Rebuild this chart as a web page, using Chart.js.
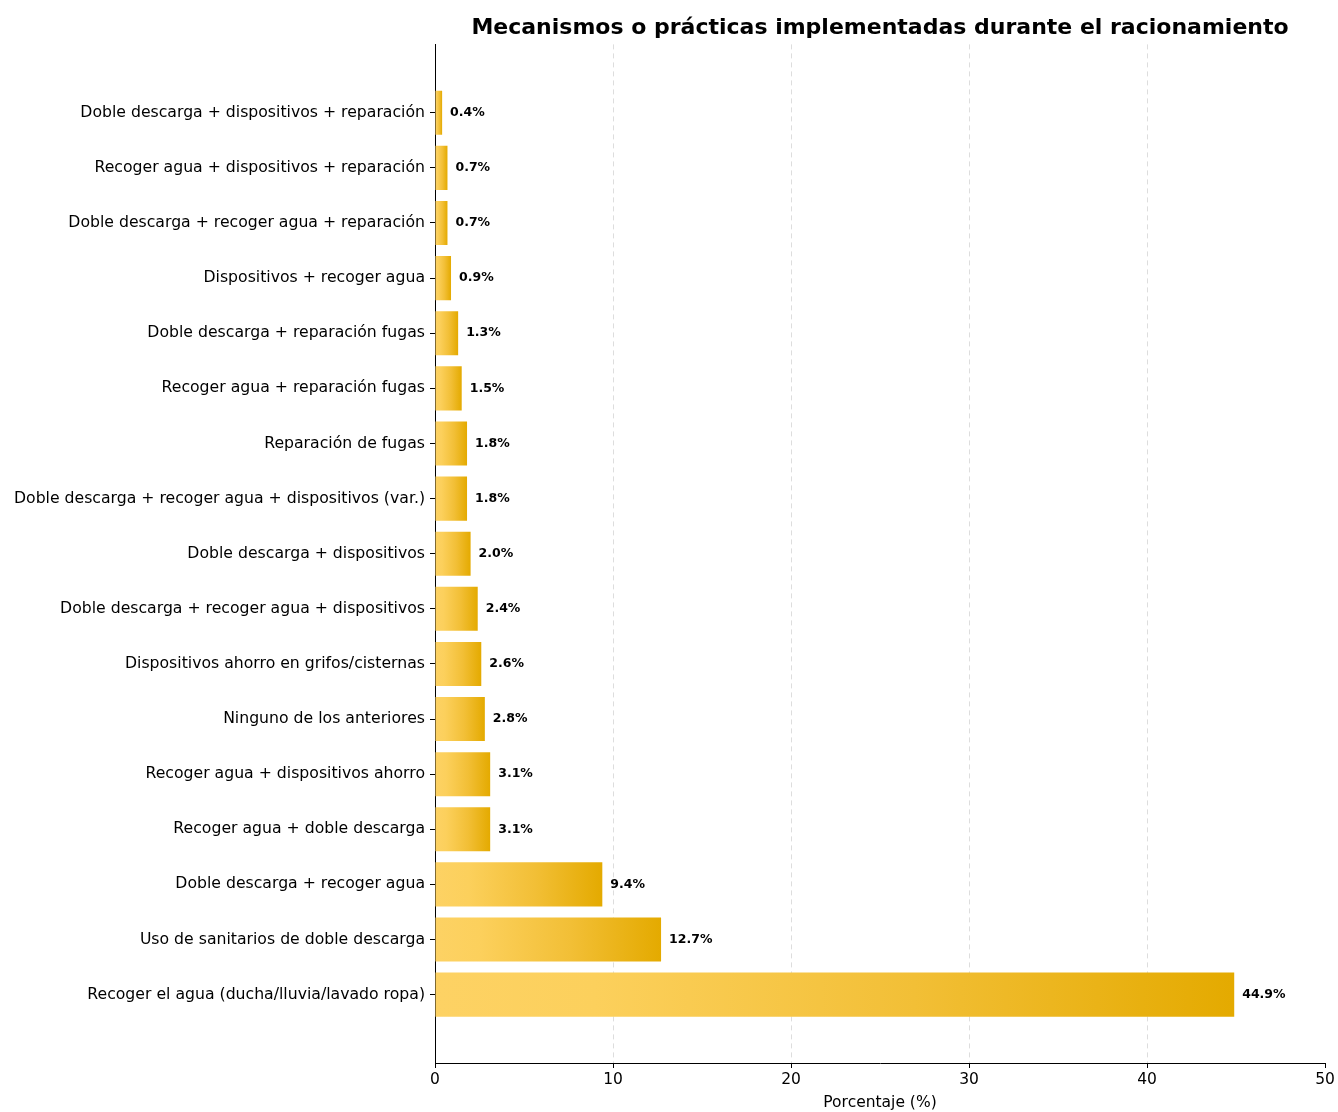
<!DOCTYPE html>
<html>
<head>
<meta charset="utf-8">
<script src="https://cdn.jsdelivr.net/npm/chart.js@4/dist/chart.umd.min.js"></script>
<style>
  html, body { margin: 0; padding: 0; background: #fff; }
  #wrap { width: 1338px; height: 1112px; }
</style>
</head>
<body>
<div id="wrap"><canvas id="chart"></canvas></div>
<script>
// datos (de abajo hacia arriba, como en la figura)
const categories = [
  'Recoger el agua (ducha/lluvia/lavado ropa)',
  'Uso de sanitarios de doble descarga',
  'Doble descarga + recoger agua',
  'Recoger agua + doble descarga',
  'Recoger agua + dispositivos ahorro',
  'Ninguno de los anteriores',
  'Dispositivos ahorro en grifos/cisternas',
  'Doble descarga + recoger agua + dispositivos',
  'Doble descarga + dispositivos',
  'Doble descarga + recoger agua + dispositivos (var.)',
  'Reparación de fugas',
  'Recoger agua + reparación fugas',
  'Doble descarga + reparación fugas',
  'Dispositivos + recoger agua',
  'Doble descarga + recoger agua + reparación',
  'Recoger agua + dispositivos + reparación',
  'Doble descarga + dispositivos + reparación'
];
const percentages = [44.9, 12.7, 9.4, 3.1, 3.1, 2.8, 2.6, 2.4, 2.0, 1.8, 1.8, 1.5, 1.3, 0.9, 0.7, 0.7, 0.4];
const xTicks = [0, 10, 20, 30, 40, 50];

const FONT = 'DejaVu Sans';

// gradiente horizontal dentro de cada barra
function barGradient(context) {
  const chart = context.chart;
  if (!chart.chartArea || context.parsed == null) return '#f0c030';
  const xs = chart.scales.x;
  const x0 = xs.getPixelForValue(0);
  const x1 = xs.getPixelForValue(context.parsed.x);
  if (!isFinite(x1) || x1 - x0 < 1) return '#f5c640';
  const g = chart.ctx.createLinearGradient(x0, 0, x1, 0);
  g.addColorStop(0, '#fdd264');
  g.addColorStop(0.2, '#fcd05c');
  g.addColorStop(0.6, '#f2bf36');
  g.addColorStop(1, '#e4aa00');
  return g;
}

// etiquetas de valor al final de cada barra
const valueLabels = {
  id: 'valueLabels',
  afterDatasetsDraw(chart) {
    const ctx = chart.ctx;
    const meta = chart.getDatasetMeta(0);
    ctx.save();
    ctx.font = `bold 12.5px "${FONT}"`;
    ctx.fillStyle = '#000';
    ctx.textAlign = 'left';
    ctx.textBaseline = 'middle';
    meta.data.forEach((bar, i) => {
      ctx.fillText(percentages[i].toFixed(1) + '%', bar.x + 8, bar.y);
    });
    ctx.restore();
  }
};

const data = percentages.map((v, i) => ({ x: v, y: i }));

new Chart(document.getElementById('chart'), {
  type: 'bar',
  data: {
    datasets: [{
      data: data,
      backgroundColor: barGradient,
      borderWidth: 0,
      barPercentage: 0.8,
      categoryPercentage: 1.0
    }]
  },
  options: {
    indexAxis: 'y',
    responsive: true,
    maintainAspectRatio: false,
    animation: false,
    layout: { padding: { left: 0, right: 13, top: 0, bottom: 0 } },
    plugins: {
      legend: { display: false },
      tooltip: { enabled: false },
      title: {
        display: true,
        text: 'Mecanismos o prácticas implementadas durante el racionamiento',
        fullSize: false,
        color: '#000',
        font: { family: FONT, size: 22, weight: 'bold' },
        padding: { top: 15, bottom: 3 }
      }
    },
    scales: {
      x: {
        type: 'linear',
        min: 0,
        max: 50,
        afterBuildTicks: (scale) => { scale.ticks = xTicks.map(v => ({ value: v })); },
        afterFit: (scale) => { scale.height = 49; },
        ticks: {
          color: '#000',
          font: { family: FONT, size: 15.5 },
          padding: 3
        },
        grid: {
          color: (c) => (c.tick && (c.tick.value === 0 || c.tick.value === 50)) ? 'rgba(0,0,0,0)' : '#dddddd',
          lineWidth: 1,
          tickColor: '#000',
          tickLength: 5,
          tickWidth: 1
        },
        border: { display: true, color: '#000', width: 1, dash: [5, 4] },
        title: {
          display: true,
          text: 'Porcentaje (%)',
          color: '#000',
          font: { family: FONT, size: 15.5 },
          padding: { top: 0, bottom: 0 }
        }
      },
      y: {
        type: 'linear',
        offset: false,
        min: -1.24,
        max: 17.24,
        afterBuildTicks: (scale) => { scale.ticks = categories.map((_, i) => ({ value: i })); },
        afterFit: (scale) => { scale.width = 435; },
        ticks: {
          color: '#000',
          font: { family: FONT, size: 15.7 },
          padding: 5,
          callback: (v) => categories[v]
        },
        grid: {
          offset: false,
          drawOnChartArea: false,
          drawTicks: true,
          tickLength: 5,
          tickColor: '#000',
          tickWidth: 1
        },
        border: { display: true, color: '#000', width: 1 }
      }
    }
  },
  plugins: [valueLabels]
});
</script>
</body>
</html>
